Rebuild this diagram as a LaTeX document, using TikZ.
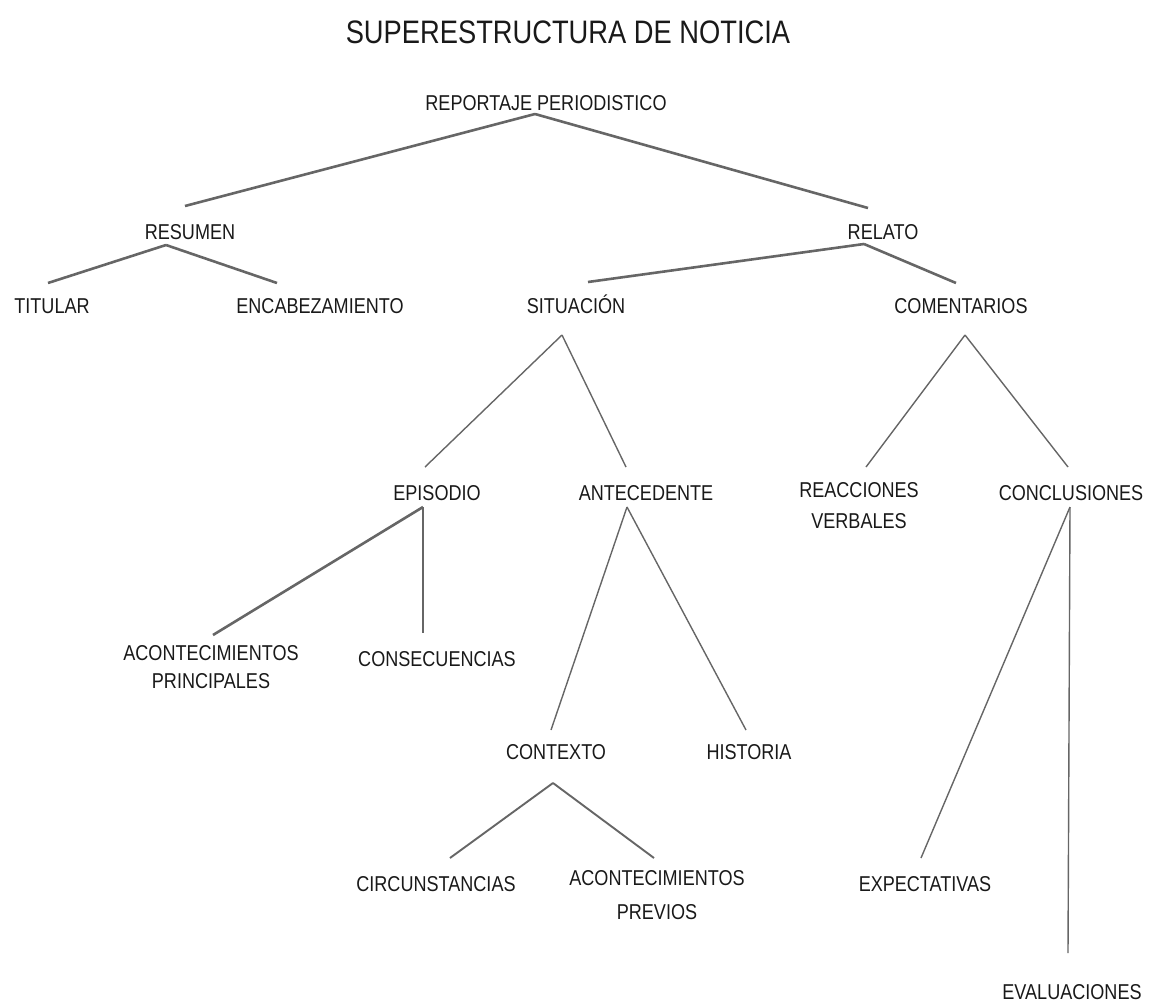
\documentclass[tikz,border=0pt]{standalone}
\usepackage{fontspec}
\setmainfont[FakeStretch=0.84]{Liberation Sans}

\begin{document}
\begin{tikzpicture}[x=1pt, y=-1pt,
    lbl/.style={inner sep=0pt, anchor=base, align=center, text=black!90,
      font=\fontsize{21.5}{28}\selectfont},
    heavy/.style={draw=black!60, line width=2.6pt},
    light/.style={draw=black!60, line width=1.4pt},
    medium/.style={draw=black!60, line width=1.9pt}]
  \useasboundingbox (0,0) rectangle (1152,1002);

  % title
  \node[lbl, font=\fontsize{32.5}{36}\selectfont] (title) at (568,43) {SUPERESTRUCTURA DE NOTICIA};

  % tree levels (two-line labels sit on their last line)
  \node[lbl] (rep) at (546,110) {REPORTAJE PERIODISTICO};
  \node[lbl] (res) at (190,239) {RESUMEN};
  \node[lbl] (rel) at (883,239) {RELATO};
  \node[lbl] (tit) at (52,313) {TITULAR};
  \node[lbl] (enc) at (320,313) {ENCABEZAMIENTO};
  \node[lbl] (sit) at (576,313) {SITUACIÓN};
  \node[lbl] (com) at (961,313) {COMENTARIOS};
  \node[lbl] (epi) at (437,500) {EPISODIO};
  \node[lbl] (ant) at (646,500) {ANTECEDENTE};
  \node[lbl] (rea) at (859,528) {REACCIONES\\[3pt]VERBALES};
  \node[lbl] (con) at (1071,500) {CONCLUSIONES};
  \node[lbl] (acp) at (211,688) {ACONTECIMIENTOS\\PRINCIPALES};
  \node[lbl] (cns) at (437,666) {CONSECUENCIAS};
  \node[lbl] (ctx) at (556,759) {CONTEXTO};
  \node[lbl] (his) at (749,759) {HISTORIA};
  \node[lbl] (cir) at (436,891) {CIRCUNSTANCIAS};
  \node[lbl] (acv) at (657,919) {ACONTECIMIENTOS\\[6pt]PREVIOS};
  \node[lbl] (exp) at (925,891) {EXPECTATIVAS};
  \node[lbl] (eva) at (1072,999) {EVALUACIONES};

  % branches
  \draw[heavy] ([shift={(-11,4)}]rep.base) -- ([shift={(-5,-33)}]res.base);
  \draw[heavy] ([shift={(-11,4)}]rep.base) -- ([shift={(-15,-31)}]rel.base);
  \draw[heavy] ([shift={(-24,6)}]res.base) -- ([shift={(-4,-30)}]tit.base);
  \draw[heavy] ([shift={(-24,6)}]res.base) -- ([shift={(-43,-30)}]enc.base);
  \draw[heavy] ([shift={(-19,5)}]rel.base) -- ([shift={(12,-31)}]sit.base);
  \draw[heavy] ([shift={(-19,5)}]rel.base) -- ([shift={(-5,-30)}]com.base);
  \draw[light] ([shift={(-14,22)}]sit.base) -- ([shift={(-12,-33)}]epi.base);
  \draw[light] ([shift={(-14,22)}]sit.base) -- ([shift={(-20,-33)}]ant.base);
  \draw[light] ([shift={(4,22)}]com.base) -- ([shift={(7,-61)}]rea.base);
  \draw[light] ([shift={(4,22)}]com.base) -- ([shift={(-3,-33)}]con.base);
  \draw[heavy] ([shift={(-14,7)}]epi.base) -- ([shift={(2,-53)}]acp.base);
  \draw[light] ([shift={(-14,7)}]epi.base) -- ([shift={(-14,-33)}]cns.base);
  \draw[light] ([shift={(-19,7)}]ant.base) -- ([shift={(-5,-29)}]ctx.base);
  \draw[light] ([shift={(-19,7)}]ant.base) -- ([shift={(-3,-29)}]his.base);
  \draw[light] ([shift={(-1,7)}]con.base) -- ([shift={(-4,-33)}]exp.base);
  \draw[light] ([shift={(-1,7)}]con.base) -- ([shift={(-4,-46)}]eva.base);
  \draw[medium] ([shift={(-3,24)}]ctx.base) -- ([shift={(14,-33)}]cir.base);
  \draw[medium] ([shift={(-3,24)}]ctx.base) -- ([shift={(-3,-61)}]acv.base);
\end{tikzpicture}
\end{document}
